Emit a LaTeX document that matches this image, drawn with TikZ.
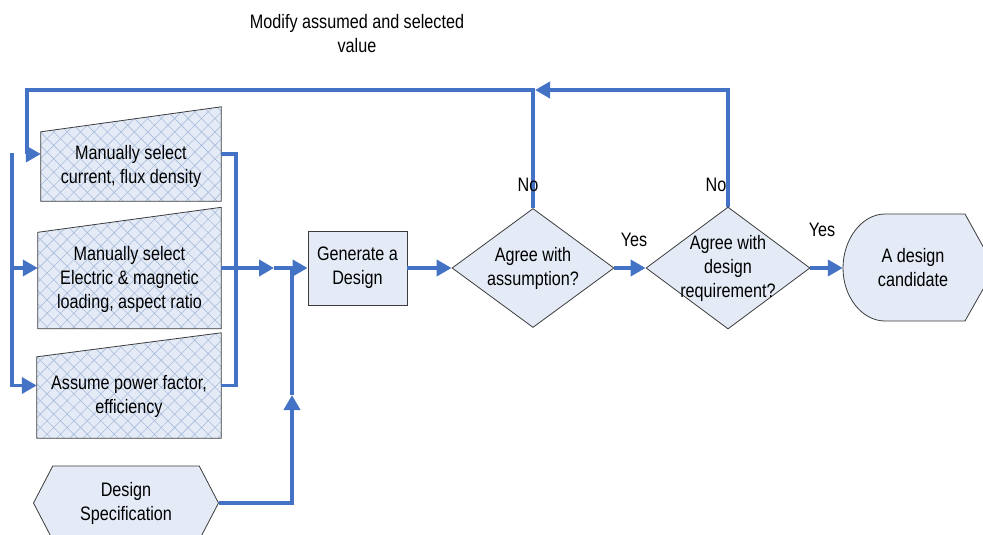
\documentclass[tikz,border=0pt]{standalone}
\usepackage{fontspec}
\setmainfont[FakeStretch=0.83]{Liberation Sans}
\usetikzlibrary{arrows.meta,positioning,shapes.geometric,shapes.symbols,patterns.meta,backgrounds,calc}
\definecolor{fBlue} {HTML}{4472C4}
\definecolor{fFill} {HTML}{E4EBF6}
\definecolor{fHatch}{HTML}{A9BCDD}
\definecolor{fEdge} {HTML}{3C3C3C}

\begin{document}
\begin{tikzpicture}[
  x=1pt, y=-1pt, font=\fontsize{19.5}{24}\selectfont,
  shp/.style={draw=fEdge, fill=fFill, line width=0.8pt},
  box/.style={shp, rectangle, align=center, inner sep=0pt},
  dia/.style={shp, diamond, inner sep=0pt},
  sig/.style={shp, signal, signal to=west and east, signal pointer angle=125,
              align=center, inner sep=0pt},
  frm/.style={rectangle, inner sep=0pt},
  man/.style={preaction={fill=fFill}, draw=fEdge, line width=0.8pt,
              pattern={Hatch[angle=45,distance=9.5pt,line width=0.6pt]}, pattern color=fHatch},
  txt/.style={align=center, inner sep=0pt},
  ar/.style={-{Triangle[length=15pt,width=16pt]}, draw=fBlue, line width=3.8pt},
  ln/.style={draw=fBlue, line width=3.8pt},
]
\useasboundingbox (0,0) rectangle (983,535);

% ============================================================ LEFT COLUMN
% ---- manual inputs
\node[frm, minimum width=180, minimum height=94]  at (131,154)   (sel1) {};
\node[frm, minimum width=183, minimum height=121] at (129.5,268) (sel2) {};
\node[frm, minimum width=184, minimum height=105] at (129,385.5) (sel3) {};
\path[man] (sel1.south west) -- (sel1.south east) -- (sel1.north east) -- ([yshift=-25pt]sel1.north west) -- cycle;
\path[man] (sel2.south west) -- (sel2.south east) -- (sel2.north east) -- ([yshift=-25pt]sel2.north west) -- cycle;
\path[man] (sel3.south west) -- (sel3.south east) -- (sel3.north east) -- ([yshift=-24pt]sel3.north west) -- cycle;
\node[txt] at ([yshift=-12pt]sel1.center) (sel1t) {Manually select\\current, flux density};
\node[txt] at ([yshift=-11pt]sel2.center) (sel2t) {Manually select\\Electric \& magnetic\\loading, aspect ratio};
\node[txt] at ([yshift=-11pt]sel3.center) (sel3t) {Assume power factor,\\efficiency};

% ---- specification
\node[sig, minimum width=185, minimum height=74] at (126,503) (spec) {Design\\Specification};

% ============================================================ MAIN ROW
\node[box, minimum width=99, minimum height=74] at (357.5,268) (gen) {Generate a\\Design};
\node[dia, minimum width=162, minimum height=119] at (533,268) (chk1) {};
\node[txt] at (chk1) (chk1t) {Agree with\\assumption?};
\node[dia, minimum width=164, minimum height=122] at (728,268) (chk2) {};
\node[txt] at (chk2) (chk2t) {Agree with\\design\\requirement?};

% ---- result
\node[frm, minimum width=140, minimum height=107] at (913,268) (cand) {};
\begin{pgfonlayer}{background}
  \path[shp] (885,214) -- (965,214) -- (995,268) -- (965,321) -- (885,321)
    .. controls (862,321) and (843,297) .. (843,268)
    .. controls (843,239) and (862,214) .. (885,214) -- cycle;
\end{pgfonlayer}
\node[txt] at (cand) (candt) {A design\\candidate};

% ============================================================ arrows
\coordinate (tl)  at (27,90);
\coordinate (lb)  at (12,153);
\coordinate (rb)  at (236,154);
\coordinate (mid) at (274,268);
\coordinate (jn)  at (292,268);
\coordinate (up)  at (292,395);

% feedback loops
\draw[ar] (chk1.north) |- (tl) |- (sel1.west);
\draw[ar, shorten >=2pt] (chk2.north) |- (chk1.north |- tl);

% left bus
\draw[ar] (lb) |- (sel3.west);
\draw[ar] (lb |- sel2.west) -- (sel2.west);

% right bus
\draw[ln] (sel1.east) -- (rb) |- (sel3.east);
\draw[ar] (sel2.east) -- (mid);
\draw[ar] (mid) -- (gen.west);
\draw[ar] (spec.east) -| (up);
\draw[ln] (up) -- (jn);

% main flow
\draw[ar] (gen.east)  -- (chk1.west);
\draw[ar] (chk1.east) -- (chk2.west);
\draw[ar] (chk2.east) -- (cand.west);

% labels
\node[txt] at (528,185) (no1)  {No};
\node[txt] at (716,185) (no2)  {No};
\node[txt] at (634,240) (yes1) {Yes};
\node[txt] at (822,230) (yes2) {Yes};
\node[txt] at (357,34)  (mod)  {Modify assumed and selected\\value};

\end{tikzpicture}
\end{document}
